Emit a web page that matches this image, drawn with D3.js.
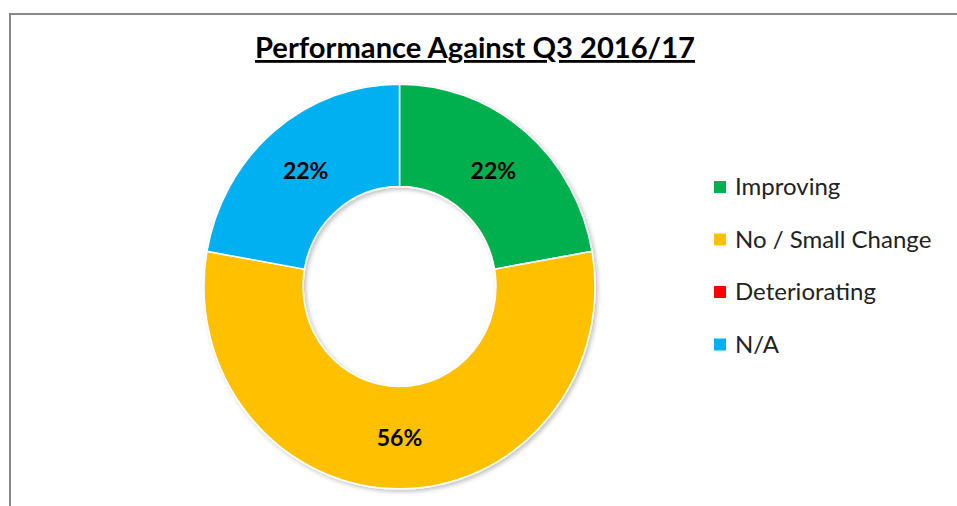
<!DOCTYPE html>
<html>
<head>
<meta charset="utf-8">
<script src="https://cdn.jsdelivr.net/npm/d3@7"></script>
<style>
  body { margin: 0; background: #fff; }
  svg { display: block; font-family: Lato, "Open Sans", sans-serif; }
</style>
</head>
<body>
<div id="chart"></div>
<script>
// data (counts: 2, 5, 0, 2 of 9)
const categories = ["Improving", "No / Small Change", "Deteriorating", "N/A"];
const counts = [2, 5, 0, 2];
const colors = ["#00B050", "#FFC000", "#FF0000", "#00B0F0"];
const title = "Performance Against Q3 2016/17";

const width = 957, height = 506;
const cx = 399.5, cy = 286.5;
const outerR = 195.5, innerR = 96.5;
const yStretch = 1.035;

const svg = d3.select("#chart").append("svg")
    .attr("width", width)
    .attr("height", height);

// soft shadow like the office chart
const defs = svg.append("defs");
const f = defs.append("filter").attr("id", "shadow")
    .attr("x", "-10%").attr("y", "-10%").attr("width", "120%").attr("height", "120%");
f.append("feDropShadow")
    .attr("dx", 2).attr("dy", 2).attr("stdDeviation", 2)
    .attr("flood-color", "#000").attr("flood-opacity", 0.25);

// chart frame (runs off the right / bottom)
svg.append("rect")
    .attr("x", 10).attr("y", 14)
    .attr("width", 1000).attr("height", 600)
    .attr("fill", "#fff")
    .attr("stroke", "#888")
    .attr("stroke-width", 2);

// title
svg.append("text")
    .attr("x", 475)
    .attr("y", 58)
    .attr("text-anchor", "middle")
    .attr("font-size", 28)
    .attr("font-weight", "bold")
    .attr("text-decoration", "underline")
    .attr("textLength", 440)
    .attr("lengthAdjust", "spacingAndGlyphs")
    .attr("fill", "#000")
    .text(title);

const pie = d3.pie().sort(null).value(d => d)(counts);
const arc = d3.arc().innerRadius(innerR).outerRadius(outerR);
const labelArc = d3.arc().innerRadius((innerR + outerR) / 2).outerRadius((innerR + outerR) / 2);

const g = svg.append("g")
    .attr("transform", `translate(${cx},${cy}) scale(1,${yStretch})`);

g.append("g").attr("filter", "url(#shadow)")
    .selectAll("path")
    .data(pie.filter(d => d.value > 0))
    .join("path")
    .attr("d", arc)
    .attr("fill", d => colors[d.index])
    .attr("stroke", "#fff")
    .attr("stroke-width", 1.5);

const total = d3.sum(counts);
svg.append("g")
    .selectAll("text")
    .data(pie.filter(d => d.value > 0))
    .join("text")
    .attr("x", d => cx + labelArc.centroid(d)[0])
    .attr("y", d => cy + labelArc.centroid(d)[1] * yStretch)
    .attr("dy", "0.35em")
    .attr("text-anchor", "middle")
    .attr("font-size", 23)
    .attr("font-weight", "bold")
    .attr("fill", "#000")
    .text(d => d3.format(".0%")(d.value / total));

// legend
const legend = svg.append("g").attr("transform", "translate(714,187)");
const items = legend.selectAll("g")
    .data(categories)
    .join("g")
    .attr("transform", (d, i) => `translate(0,${i * 52.5})`);

items.append("rect")
    .attr("x", 0).attr("y", -6)
    .attr("width", 12).attr("height", 12)
    .attr("fill", (d, i) => colors[i]);

items.append("text")
    .attr("x", 21)
    .attr("dy", "0.35em")
    .attr("font-size", 24)
    .attr("fill", "#222")
    .text(d => d);
</script>
</body>
</html>
